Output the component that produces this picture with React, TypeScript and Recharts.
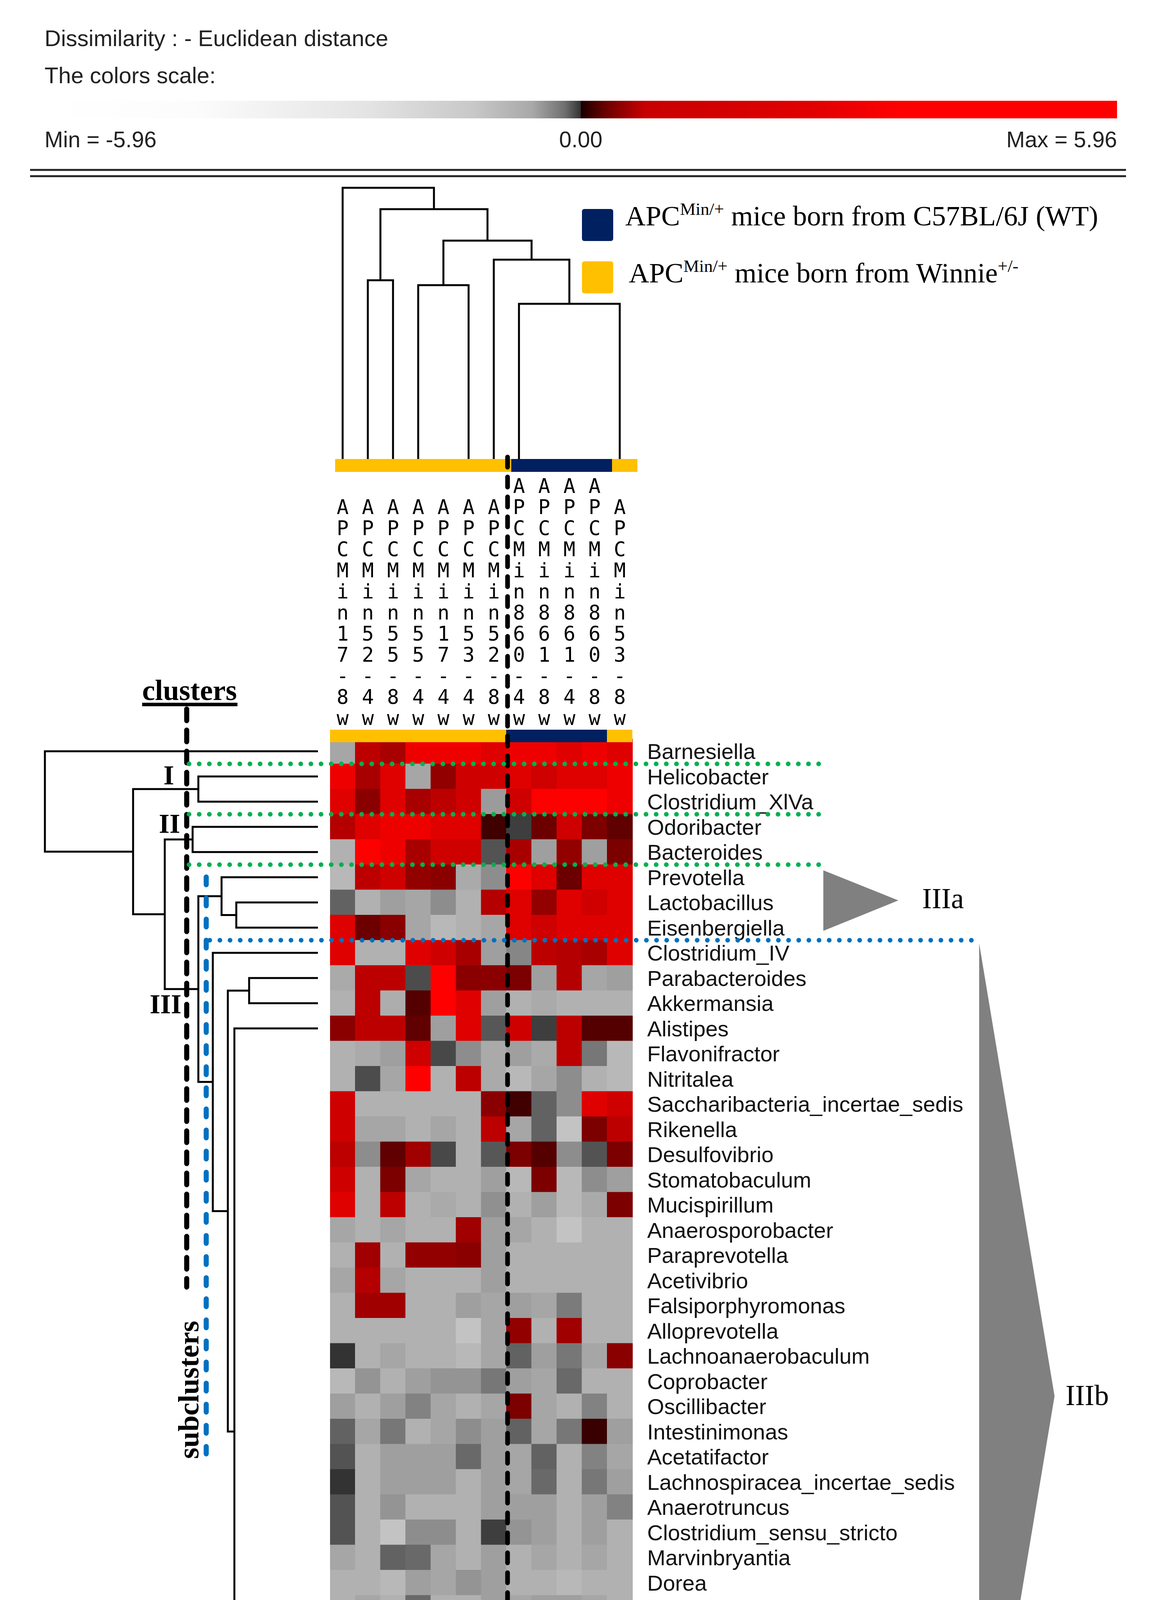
import React from 'react';
import { BarChart, Bar, Cell, XAxis, YAxis, ScatterChart, Scatter } from 'recharts';

// ---------------- data ----------------
const sampleLabels = [
  'APCMin17-8w', 'APCMin52-4w', 'APCMin55-8w', 'APCMin55-4w', 'APCMin17-4w', 'APCMin53-4w',
  'APCMin52-8w', 'APCMin860-4w', 'APCMin861-8w', 'APCMin861-4w', 'APCMin860-8w', 'APCMin53-8w',
];
const sampleGroups = ['winnie', 'winnie', 'winnie', 'winnie', 'winnie', 'winnie', 'winnie', 'wt', 'wt', 'wt', 'wt', 'winnie'];
const groupColors: Record<string, string> = { wt: '#002060', winnie: '#ffc000' };

const genera = [
  'Barnesiella', 'Helicobacter', 'Clostridium_XlVa', 'Odoribacter', 'Bacteroides', 'Prevotella',
  'Lactobacillus', 'Eisenbergiella', 'Clostridium_IV', 'Parabacteroides', 'Akkermansia', 'Alistipes',
  'Flavonifractor', 'Nitritalea', 'Saccharibacteria_incertae_sedis', 'Rikenella', 'Desulfovibrio',
  'Stomatobaculum', 'Mucispirillum', 'Anaerosporobacter', 'Paraprevotella', 'Acetivibrio',
  'Falsiporphyromonas', 'Alloprevotella', 'Lachnoanaerobaculum', 'Coprobacter', 'Oscillibacter',
  'Intestinimonas', 'Acetatifactor', 'Lachnospiracea_incertae_sedis', 'Anaerotruncus',
  'Clostridium_sensu_stricto', 'Marvinbryantia', 'Dorea', 'Aquimarina', 'Sphingobacterium',
  'Anaeroplasma', 'Ureaplasma', 'Syntrophococcus', 'Turicibacter', 'Escherichia/Shigella',
  'Macellibacteroides', 'Parasutterella', 'Roseburia',
];

// standardized values, one row per genus, one column per sample
const zScores: number[][] = [
  [-3.5, 3, 2.5, 4.5, 4.5, 4.5, 4, 4.5, 4.5, 4, 4.5, 4],
  [4.5, 2.5, 4, -3.5, 2, 3.5, 3.5, 4, 3.5, 4, 4, 4.5],
  [4, 1.8, 4, 2.5, 3, 3.5, -3.2, 3.5, 5, 5, 5, 4.5],
  [2.8, 4, 4.5, 4.5, 4, 4, 0.5, -0.6, 1.2, 3.5, 1.5, 1],
  [-3.8, 5, 4.5, 2.5, 3.5, 3.5, -1.2, 2.5, -3.3, 2, -3.3, 1.5],
  [-4, 3, 3.5, 2, 1.8, -3.6, -2.8, 5, 4, 1.2, 4, 4],
  [-1.6, -3.8, -3.3, -3.5, -2.8, -3.8, 2.8, 4, 2, 4, 3.5, 4],
  [4, 1.2, 1.8, -3.5, -4, -3.8, -3.5, 4, 3.5, 4, 4, 4],
  [4, -3.8, -3.8, 4, 3.5, 2.5, -3.3, -2.6, 3, 2.8, 2.5, 4],
  [-3.6, 3, 3, -1, 5, 1.8, 1.8, 1.5, -3.3, 2.8, -3.5, -3.3],
  [-3.8, 3, -3.7, 0.8, 5, 4, -3.3, -3.8, -3.6, -3.8, -3.8, -3.8],
  [1.8, 3, 3, 1, -3.3, 4, -1.3, 3.5, -0.6, 3, 0.8, 0.8],
  [-3.8, -3.6, -3.3, 3.5, -0.9, -2.8, -3.6, -3.3, -3.6, 3, -2.2, -4],
  [-3.8, -1, -3.5, 5, -3.8, 3, -3.6, -4, -3.5, -2.8, -3.8, -4],
  [3.5, -3.8, -3.8, -3.8, -3.8, -3.8, 1.8, 0.5, -1.6, -2.8, 4, 3.5],
  [3.5, -3.5, -3.5, -3.8, -3.5, -3.8, 3, -3.5, -1.6, -4.3, 1.5, 3],
  [3, -2.8, 1, 2.3, -0.9, -3.8, -1.3, 1.5, 0.8, -2.8, -1.2, 1.5],
  [3.5, -3.8, 1.5, -3.5, -3.8, -3.8, -3.3, -4, 1.5, -4, -2.8, -3.3],
  [4, -3.8, 3, -3.8, -3.6, -3.8, -2.9, -3.8, -3.3, -4, -3.6, 1.5],
  [-3.5, -3.8, -3.5, -3.8, -3.8, 2.3, -3.3, -3.5, -3.8, -4.3, -3.8, -3.8],
  [-3.8, 2.3, -3.8, 2, 2, 1.8, -3.3, -3.8, -3.8, -3.8, -3.8, -3.8],
  [-3.5, 2.8, -3.5, -3.8, -3.8, -3.8, -3.3, -3.8, -3.8, -3.8, -3.8, -3.8],
  [-3.8, 2.3, 2.3, -3.8, -3.8, -3.3, -3.5, -3.3, -3.5, -2.3, -3.8, -3.8],
  [-3.8, -3.8, -3.8, -3.8, -3.8, -4.3, -3.5, 2, -3.8, 2.3, -3.8, -3.8],
  [-0.3, -3.8, -3.5, -3.8, -3.8, -4, -3.5, -1.6, -3.3, -2.2, -3.5, 1.8],
  [-4, -3, -3.8, -3.3, -3, -3, -2.2, -3.3, -3.5, -1.8, -3.8, -3.8],
  [-3.3, -3.8, -3.3, -2.5, -3.5, -3.8, -3.5, 1.5, -3.5, -3.8, -2.5, -3.8],
  [-1.6, -3.5, -2.2, -3.8, -3.5, -2.8, -3.3, -1.6, -3.5, -2.2, 0.4, -3.3],
  [-1.2, -3.8, -3.3, -3.3, -3.3, -1.8, -3.3, -3.5, -1.6, -3.8, -2.5, -3.5],
  [-0.3, -3.8, -3.3, -3.3, -3.3, -3.8, -3.3, -3.5, -1.8, -3.8, -2.2, -3.3],
  [-1.2, -3.8, -3, -3.8, -3.8, -3.8, -3.3, -3.3, -3.3, -3.8, -3.3, -2.5],
  [-1.2, -3.8, -4.3, -2.8, -2.8, -3.8, -0.6, -3, -3.3, -3.8, -3.3, -3.8],
  [-3.5, -3.8, -1.6, -1.8, -3.5, -3.8, -3.3, -3.8, -3.5, -3.8, -3.5, -3.8],
  [-3.8, -3.8, -4, -3.3, -3.5, -3, -3.3, -3.8, -3.8, -4, -3.8, -3.8],
  [-3.8, -3.5, -3.8, -1.8, -3.8, -3.8, -3.3, -3.5, -3.3, -3.3, -3.5, -3.8],
  [-3.8, -3.8, -3.8, -2.5, -3.8, -3.8, -3.3, -3.8, -3.5, -3.8, -3.8, -3.8],
  [-3.8, -3.8, -3.8, -3.5, -3.8, -3.8, -3.3, -3.8, -3.5, -3.8, -3.8, -3.3],
  [-3.8, -3.8, -3.8, -3, -2.8, -3.8, -2.5, -3.5, -3.3, -3.8, -3.3, -3.8],
  [-2.8, -3.8, -3.8, -3.5, -3.5, -3.8, -3.3, -3.8, -3.5, -3.8, -3.8, -3.8],
  [-3.8, -3.8, -3.8, -3.5, -3.5, -3.8, -1.6, -3.6, -3.5, -3.8, -3.8, -3.8],
  [-3.8, -2.5, -3.8, -3.5, -3.5, -3.8, -1.6, -3.8, -3.5, -3.8, -3.8, -3.8],
  [-3.8, -3.8, -3.8, -3.3, -3.3, -3.8, 2.3, -3.8, -2.8, -3.3, -3.3, -3.5],
  [-3.5, -2.8, -3.5, -3.5, -3, -3.8, 3.5, -3.8, -3, -3.8, -3.5, -3.8],
  [-3.5, -3.8, -3.8, -3.3, -3.3, 4, -3.3, -3.8, 1.2, -3.8, -3.5, -3.8],
];

// sample dendrogram: children are column indices (numbers) or node ids
const colTree = [
  { id: 'A', left: 7, right: 11, height: 5.72 },
  { id: 'B', left: 6, right: 'A', height: 7.35 },
  { id: 'C', left: 3, right: 5, height: 6.41 },
  { id: 'D', left: 'C', right: 'B', height: 8.05 },
  { id: 'E', left: 1, right: 2, height: 6.59 },
  { id: 'F', left: 'E', right: 'D', height: 9.21 },
  { id: 'G', left: 0, right: 'F', height: 10.0 },
];

// genus dendrogram: children are row indices or node ids
const rowTree = [
  { id: 'n1', left: 1, right: 2, height: 4.38 },
  { id: 'n2', left: 3, right: 4, height: 4.59 },
  { id: 'n3', left: 6, right: 7, height: 2.99 },
  { id: 'n4', left: 5, right: 'n3', height: 3.53 },
  { id: 'n5', left: 9, right: 10, height: 2.52 },
  { id: 'n6', left: 11, right: 43, height: 3.06 },
  { id: 'n7', left: 'n5', right: 'n6', height: 3.3 },
  { id: 'n8', left: 8, right: 'n7', height: 3.85 },
  { id: 'n9', left: 'n4', right: 'n8', height: 4.38 },
  { id: 'n10', left: 'n2', right: 'n9', height: 5.61 },
  { id: 'n11', left: 'n1', right: 'n10', height: 6.77 },
  { id: 'n12', left: 0, right: 'n11', height: 10.0 },
];

const scaleMin = -5.96;
const scaleMax = 5.96;
const scaleTicks = [scaleMin, 0, scaleMax];

const clusterRowBounds = [1, 3, 5];
const subclusterRowBound = 8;
const groupSplitCol = 7;

// ---------------- layout ----------------
const W = 2970;
const H = 4803;
const HM_LEFT = 845;
const HM_TOP = 1891;
const CELL = 64.5;
const NCOL = sampleLabels.length;
const NROW = genera.length;
const HM_W = CELL * NCOL;
const HM_H = CELL * NROW;
const LABEL_AXIS_H = 700;

const SANS = 'Liberation Sans, Arial, sans-serif';
const SERIF = 'Liberation Serif, Times New Roman, serif';
const MONO = 'DejaVu Sans Mono, monospace';

function cellColor(v: number): string {
  if (v < 0) {
    const g = Math.round(Math.min(255, 40 + 36 * -v));
    return `rgb(${g},${g},${g})`;
  }
  const r = Math.round(255 * Math.min(1, Math.pow(v / 5, 0.6)));
  return `rgb(${r},0,0)`;
}

type TreeNode = { id: string; left: number | string; right: number | string; height: number };
function buildTree(nodes: TreeNode[]) {
  const pos: Record<string, { p: number; h: number }> = {};
  const get = (c: number | string) => (typeof c === 'number' ? { p: c, h: 0 } : pos[c]);
  return nodes.map((n) => {
    const a = get(n.left);
    const b = get(n.right);
    pos[n.id] = { p: (a.p + b.p) / 2, h: n.height };
    return { id: n.id, a, b, h: n.height };
  });
}

const colLinks = buildTree(colTree).map((l) => ({
  id: l.id,
  pts: [
    { x: l.a.p, y: l.a.h },
    { x: l.a.p, y: l.h },
    { x: l.b.p, y: l.h },
    { x: l.b.p, y: l.b.h },
  ],
}));
const rowLinks = buildTree(rowTree).map((l) => ({
  id: l.id,
  pts: [
    { x: l.a.h, y: l.a.p },
    { x: l.h, y: l.a.p },
    { x: l.h, y: l.b.p },
    { x: l.b.h, y: l.b.p },
  ],
}));

const heatData = sampleLabels.map((name) => {
  const o: Record<string, number | string> = { name };
  genera.forEach((_, r) => (o[`r${r}`] = 1));
  return o;
});
const stripData = sampleLabels.map((name, c) => ({ name, v: 1, group: sampleGroups[c] }));
const rowTicks = genera.map((_, i) => i + 0.5);

const noShape = () => <g />;

// ---------------- components ----------------
const ColumnLabelTick = (props: any) => {
  const { x, y, payload } = props;
  const chars = String(payload.value).split('');
  return (
    <g>
      {chars.map((ch, i) => (
        <text
          key={i}
          x={x}
          y={y - 12 - (chars.length - 1 - i) * 54}
          textAnchor="middle"
          fontFamily={MONO}
          fontSize={51}
          fill="#000"
        >
          {ch}
        </text>
      ))}
    </g>
  );
};

const ScaleTick = (props: any) => {
  const { x, y, payload } = props;
  const v = payload.value;
  const label = v === scaleMin ? `Min = ${v.toFixed(2)}` : v === scaleMax ? `Max = ${v.toFixed(2)}` : v.toFixed(2);
  const anchor = v === scaleMin ? 'start' : v === scaleMax ? 'end' : 'middle';
  return (
    <text x={x} y={y + 72} textAnchor={anchor} fontFamily={SANS} fontSize={57} fill="#222">
      {label}
    </text>
  );
};

const RowLabelTick = (props: any) => {
  const { x, y, payload } = props;
  return (
    <text x={x} y={y} dy="0.36em" textAnchor="start" fontFamily={SANS} fontSize={56} fill="#111">
      {genera[Math.floor(payload.value)]}
    </text>
  );
};

const Strip = ({ withLabels }: { withLabels: boolean }) => (
  <BarChart
    width={HM_W}
    height={withLabels ? LABEL_AXIS_H + 32 : 33}
    data={stripData}
    margin={{ top: 0, right: 0, bottom: 0, left: 0 }}
    barCategoryGap={0}
    barGap={0}
  >
    <XAxis
      dataKey="name"
      orientation="top"
      hide={!withLabels}
      height={withLabels ? LABEL_AXIS_H : 0}
      interval={0}
      axisLine={false}
      tickLine={false}
      tickSize={0}
      tickMargin={0}
      tick={<ColumnLabelTick />}
    />
    <YAxis hide domain={[0, 1]} allowDataOverflow />
    <Bar dataKey="v" isAnimationActive={false}>
      {stripData.map((d, i) => (
        <Cell key={i} fill={groupColors[d.group]} stroke={groupColors[d.group]} strokeWidth={1} />
      ))}
    </Bar>
  </BarChart>
);

const abs = (left: number, top: number, width: number, height: number): React.CSSProperties => ({
  position: 'absolute',
  left,
  top,
  width,
  height,
});

export default function App() {
  const rowY = (r: number) => HM_TOP + r * CELL;
  const splitX = HM_LEFT + groupSplitCol * CELL + 3;

  return (
    <div style={{ position: 'absolute', left: 0, top: 0, width: W, height: H, overflow: 'hidden', background: '#fff' }}>
      {/* colour scale */}
      <div style={abs(104, 255, 2766, 190)}>
        <BarChart
          width={2766}
          height={190}
          layout="vertical"
          data={[{ name: 'scale', range: [scaleMin, scaleMax] }]}
          margin={{ top: 0, right: 10, bottom: 0, left: 10 }}
          barCategoryGap={0}
        >
          <defs>
            <linearGradient id="scaleGrad" x1="0" y1="0" x2="1" y2="0">
              <stop offset="0" stopColor="#ffffff" />
              <stop offset="0.14" stopColor="#fcfcfc" />
              <stop offset="0.3" stopColor="#e4e4e4" />
              <stop offset="0.4" stopColor="#c8c8c8" />
              <stop offset="0.455" stopColor="#a8a8a8" />
              <stop offset="0.485" stopColor="#707070" />
              <stop offset="0.5" stopColor="#333333" />
              <stop offset="0.5" stopColor="#1a0000" />
              <stop offset="0.525" stopColor="#700000" />
              <stop offset="0.56" stopColor="#c80000" />
              <stop offset="0.72" stopColor="#e20000" />
              <stop offset="0.8" stopColor="#ff0000" />
              <stop offset="1" stopColor="#ff0000" />
            </linearGradient>
          </defs>
          <XAxis
            type="number"
            domain={[scaleMin, scaleMax]}
            ticks={scaleTicks}
            allowDataOverflow
            height={140}
            axisLine={false}
            tickLine={false}
            tickSize={0}
            tickMargin={0}
            interval={0}
            tick={<ScaleTick />}
          />
          <YAxis type="category" dataKey="name" hide />
          <Bar dataKey="range" fill="url(#scaleGrad)" barSize={50} isAnimationActive={false} />
        </BarChart>
      </div>

      {/* column dendrogram */}
      <div style={abs(HM_LEFT, 446, HM_W, 729)}>
        <ScatterChart width={HM_W} height={729} margin={{ top: 0, right: 0, bottom: 0, left: 0 }}>
          <XAxis type="number" dataKey="x" domain={[-0.5, NCOL - 0.5]} allowDataOverflow hide />
          <YAxis type="number" dataKey="y" domain={[0, 10.5]} allowDataOverflow hide />
          {colLinks.map((l) => (
            <Scatter
              key={l.id}
              data={l.pts}
              fill="#000"
              line={{ stroke: '#000', strokeWidth: 5, strokeLinejoin: 'miter' }}
              lineType="joint"
              shape={noShape}
              isAnimationActive={false}
            />
          ))}
        </ScatterChart>
      </div>

      {/* group strip above labels */}
      <div style={abs(858, 1175, HM_W, 33)}>
        <Strip withLabels={false} />
      </div>

      {/* heatmap with genus labels */}
      <div style={abs(HM_LEFT, HM_TOP, HM_W + 940, HM_H)}>
        <BarChart
          width={HM_W + 940}
          height={HM_H}
          data={heatData}
          margin={{ top: 0, right: 0, bottom: 0, left: 0 }}
          barCategoryGap={0}
          barGap={0}
        >
          <XAxis dataKey="name" hide />
          <YAxis
            type="number"
            orientation="right"
            domain={[0, NROW]}
            allowDataOverflow
            reversed
            ticks={rowTicks}
            interval={0}
            width={940}
            axisLine={false}
            tickLine={false}
            tickSize={0}
            tickMargin={38}
            tick={<RowLabelTick />}
          />
          {genera.map((g, r) => (
            <Bar key={g} dataKey={`r${r}`} stackId="hm" isAnimationActive={false}>
              {sampleLabels.map((_, c) => {
                const col = cellColor(zScores[r][c]);
                return <Cell key={c} fill={col} stroke={col} strokeWidth={1} />;
              })}
            </Bar>
          ))}
        </BarChart>
      </div>

      {/* group strip with column labels */}
      <div style={abs(HM_LEFT, 1868 - LABEL_AXIS_H, HM_W, LABEL_AXIS_H + 32)}>
        <Strip withLabels />
      </div>

      {/* genus dendrogram */}
      <div style={abs(94, HM_TOP, 720, HM_H)}>
        <ScatterChart width={720} height={HM_H} margin={{ top: 0, right: 0, bottom: 0, left: 0 }}>
          <XAxis type="number" dataKey="x" domain={[0, 10.3]} allowDataOverflow reversed hide />
          <YAxis type="number" dataKey="y" domain={[-0.5, NROW - 0.5]} allowDataOverflow reversed hide />
          {rowLinks.map((l) => (
            <Scatter
              key={l.id}
              data={l.pts}
              fill="#000"
              line={{ stroke: '#000', strokeWidth: 5, strokeLinejoin: 'miter' }}
              lineType="joint"
              shape={noShape}
              isAnimationActive={false}
            />
          ))}
        </ScatterChart>
      </div>

      {/* annotations */}
      <svg width={W} height={H} style={{ position: 'absolute', left: 0, top: 0, pointerEvents: 'none' }}>
        <text x={114} y={118} fontFamily={SANS} fontSize={58} fill="#222">
          Dissimilarity : - Euclidean distance
        </text>
        <text x={114} y={213} fontFamily={SANS} fontSize={58} fill="#222">
          The colors scale:
        </text>
        <line x1={77} x2={2883} y1={435} y2={435} stroke="#222" strokeWidth={5} />
        <line x1={77} x2={2883} y1={451} y2={451} stroke="#222" strokeWidth={5} />

        {/* legend */}
        <rect x={1490} y={535} width={80} height={82} rx={6} fill={groupColors.wt} />
        <rect x={1490} y={669} width={80} height={82} rx={6} fill={groupColors.winnie} />
        <text x={1601} y={577} fontFamily={SERIF} fontSize={72} fill="#000">
          APC
          <tspan fontSize={45} dy={-27}>Min/+</tspan>
          <tspan dy={27}> mice born from C57BL/6J (WT)</tspan>
        </text>
        <text x={1610} y={723} fontFamily={SERIF} fontSize={72} fill="#000">
          APC
          <tspan fontSize={45} dy={-27}>Min/+</tspan>
          <tspan dy={27}> mice born from Winnie</tspan>
          <tspan fontSize={45} dy={-27}>+/-</tspan>
        </text>

        {/* sample split */}
        <line x1={splitX} x2={splitX} y1={1170} y2={HM_TOP + HM_H} stroke="#000" strokeWidth={12} strokeDasharray="26 25" strokeLinecap="round" />

        {/* clusters */}
        <text x={364} y={1792} fontFamily={SERIF} fontWeight="bold" fontSize={74} fill="#000">clusters</text>
        <line x1={364} x2={608} y1={1803.5} y2={1803.5} stroke="#000" strokeWidth={9} />
        <line x1={478} x2={478} y1={1815} y2={3295} stroke="#000" strokeWidth={13} strokeDasharray="30 24" strokeLinecap="round" />
        {clusterRowBounds.map((b) => (
          <line key={b} x1={484} x2={2097} y1={rowY(b)} y2={rowY(b)} stroke="#00b050" strokeWidth={12} strokeDasharray="0 26" strokeLinecap="round" />
        ))}
        <text x={432} y={2008} textAnchor="middle" fontFamily={SERIF} fontWeight="bold" fontSize={70} fill="#000">I</text>
        <text x={434} y={2132} textAnchor="middle" fontFamily={SERIF} fontWeight="bold" fontSize={70} fill="#000">II</text>
        <text x={424} y={2594} textAnchor="middle" fontFamily={SERIF} fontWeight="bold" fontSize={70} fill="#000">III</text>

        {/* subclusters */}
        <line x1={528} x2={528} y1={2245} y2={3722} stroke="#0070c0" strokeWidth={13} strokeDasharray="20 34" strokeLinecap="round" />
        <line x1={537} x2={2512} y1={rowY(subclusterRowBound)} y2={rowY(subclusterRowBound)} stroke="#0070c0" strokeWidth={12} strokeDasharray="0 26" strokeLinecap="round" />
        <text transform="translate(508,3558) rotate(-90)" textAnchor="middle" fontFamily={SERIF} fontWeight="bold" fontSize={74} fill="#000">
          subclusters
        </text>

        {/* IIIa / IIIb */}
        <polygon points="2108,2228 2108,2383 2300,2305" fill="#808080" />
        <text x={2361} y={2325} fontFamily={SERIF} fontSize={74} fill="#000">IIIa</text>
        <polygon points={`2507,2415 2507,${HM_TOP + HM_H} 2700,3574`} fill="#808080" />
        <text x={2728} y={3597} fontFamily={SERIF} fontSize={74} fill="#000">IIIb</text>
      </svg>
    </div>
  );
}
